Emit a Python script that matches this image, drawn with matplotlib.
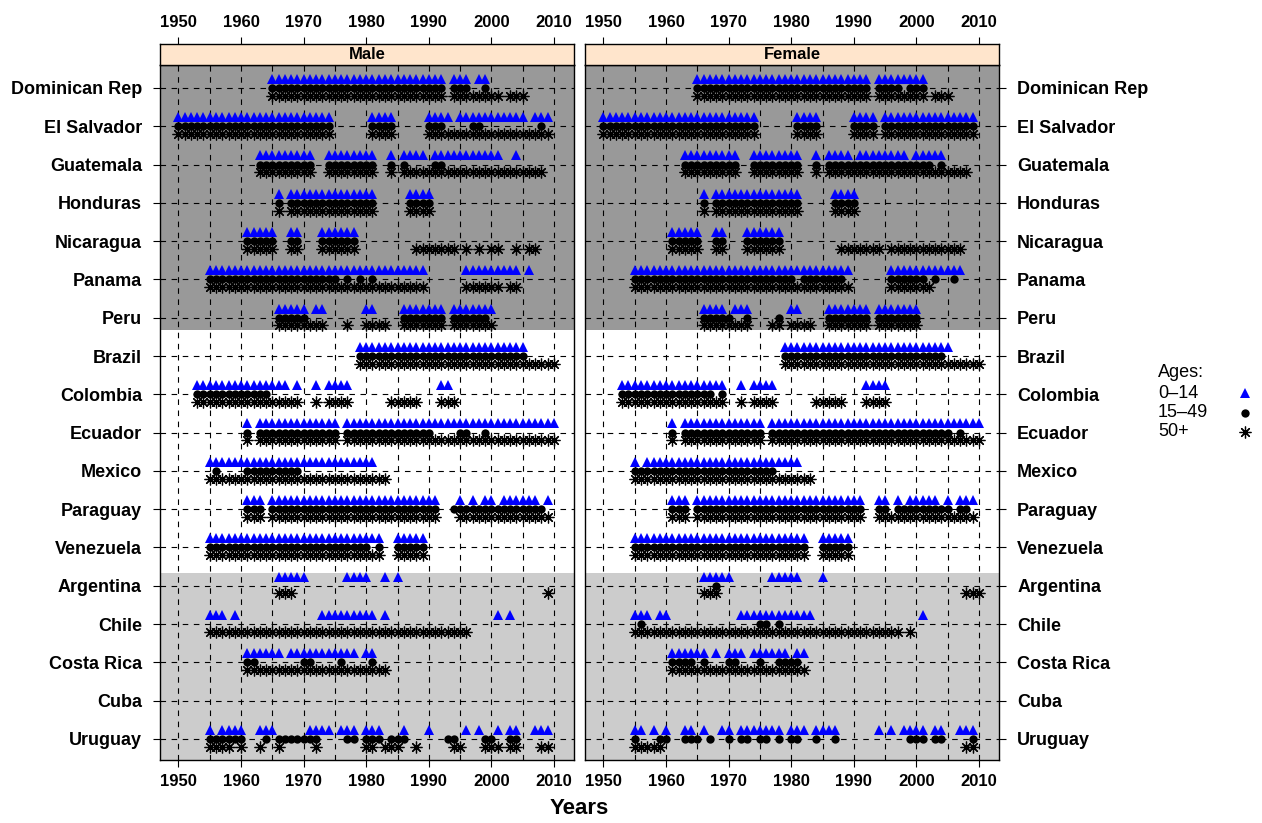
import matplotlib
matplotlib.use("Agg")
import matplotlib.pyplot as plt
from matplotlib.lines import Line2D

plt.rcParams['font.family'] = ['Liberation Sans', 'DejaVu Sans']

countries = ["Dominican Rep", "El Salvador", "Guatemala", "Honduras", "Nicaragua",
             "Panama", "Peru", "Brazil", "Colombia", "Ecuador", "Mexico", "Paraguay",
             "Venezuela", "Argentina", "Chile", "Costa Rica", "Cuba", "Uruguay"]

# Years with data, written as ranges, one entry per country (same order as above)
male_0_14 = [
    "1965-1992,1994-1996,1998-1999",
    "1950-1974,1981-1984,1990-1993,1995-2005,2007-2009",
    "1963-1971,1974-1981,1984,1986-1989,1991-2001,2004",
    "1966,1968-1981,1987-1990",
    "1961-1965,1968-1969,1973-1978",
    "1955-1989,1996-2004,2006",
    "1966-1970,1972-1973,1980-1981,1986-1992,1994-2000",
    "1979-2005",
    "1953-1967,1969,1972,1974-1977,1992-1993",
    "1961,1963-1975,1977-2010",
    "1955-1981",
    "1961-1963,1965-1991,1995,1997,1999-2000,2002-2007,2009",
    "1955-1982,1985-1989",
    "1966-1970,1977-1980,1983,1985",
    "1955-1957,1959,1973-1981,1983,2001,2003",
    "1961-1966,1968-1978,1980-1981",
    "",
    "1955,1957-1960,1963-1965,1971-1974,1976-1978,1980-1982,1986,1990,1996,1998,2001,2003-2004,2007-2009",
]
male_15_49 = [
    "1965-1992,1994-1996,1999",
    "1950-1974,1981-1984,1990-1992,1997-1998,2008",
    "1963-1971,1974-1981,1984,1986,1991-1992",
    "1966,1968-1981,1987-1990",
    "1961-1965,1968-1969,1973-1978",
    "1955-1975,1977,1979,1981",
    "1966-1970,1986-1992,1994-1999",
    "1979-2005",
    "1953-1964",
    "1961,1963-1975,1977-1990,1995-1996,1999",
    "1956,1961-1969",
    "1961-1963,1965-1991,1994-2008",
    "1955-1980,1982,1985-1989",
    "",
    "",
    "1961-1962,1970-1971,1976,1981",
    "",
    "1955-1960,1964,1966-1972,1977-1978,1980-1982,1984-1986,1993-1994,1999-2000,2003-2004",
]
male_50_plus = [
    "1965-1992,1994-2001,2003-2005",
    "1950-1974,1981-1984,1990-2009",
    "1963-1971,1974-1981,1984,1986-2008",
    "1966,1968-1981,1987-1990",
    "1961-1965,1968-1969,1973-1978,1988-1994,1996,1998,2000-2001,2004,2006-2007",
    "1955-1989,1996-2001,2003-2004",
    "1966-1973,1977,1980-1983,1986-1992,1994-2000",
    "1979-2010",
    "1953-1969,1972,1974-1977,1984-1988,1992-1994",
    "1961,1963-1975,1977-2010",
    "1955-1983",
    "1961-1963,1965-1991,1995-2009",
    "1955-1982,1985-1989",
    "1966-1968,2009",
    "1955-1996",
    "1961-1983",
    "",
    "1955-1958,1960,1963,1966,1972,1980-1981,1983-1985,1988,1994-1995,1999-2001,2003-2004,2008-2009",
]
female_0_14 = [
    "1965-1992,1994-2001",
    "1950-1974,1981-1984,1990-1993,1995-2009",
    "1963-1971,1974-1981,1984,1986-1989,1991-1998,2000-2004",
    "1966,1968-1981,1987-1990",
    "1961-1965,1968-1969,1973-1978",
    "1955-1989,1996-2007",
    "1966-1969,1971-1973,1980-1981,1986-1992,1994-2000",
    "1979-2005",
    "1953-1969,1972,1974-1977,1992-1995",
    "1961,1963-1975,1977-2010",
    "1955,1957-1981",
    "1961-1963,1965-1991,1994-1995,1997,1999-2003,2005,2007-2009",
    "1955-1982,1985-1989",
    "1966-1970,1977-1981,1985",
    "1955-1957,1959-1960,1972-1983,2001",
    "1961-1966,1968,1970-1972,1974-1979,1981-1982",
    "",
    "1955-1956,1958,1960,1963-1964,1966,1969-1970,1972-1978,1980-1982,1984-1987,1994,1996,1998-2001,2003-2004,2007-2009",
]
female_15_49 = [
    "1965-1992,1994-1997,1999-2001",
    "1950-1974,1981-1984,1990-1993,1995-2009",
    "1963-1971,1974-1981,1984,1986-2002,2004",
    "1966,1968-1981,1987-1990",
    "1961-1965,1968-1969,1973-1978",
    "1955-1980,1982-1988,1996-2001,2003,2006",
    "1966-1970,1973,1978,1986-1992,1994-2000",
    "1979-2004",
    "1953-1967,1969",
    "1961,1963-1975,1977-2005,2007",
    "1955-1977",
    "1961-1963,1965-1991,1994-1995,1997-2005,2007-2008",
    "1955-1982,1985-1989",
    "1968",
    "1956,1975-1976,1978",
    "1961-1964,1966,1970-1971,1975,1978-1981",
    "",
    "1955,1959-1960,1963-1965,1967,1970,1972-1973,1975-1976,1978,1980-1981,1984,1987,1999-2001,2003-2004,2009",
]
female_50_plus = [
    "1965-1992,1994-2001,2003-2005",
    "1950-1974,1981-1984,1990-1993,1995-2009",
    "1963-1971,1974-1981,1984,1986-2008",
    "1966,1968-1981,1987-1990",
    "1961-1965,1968-1969,1973-1978,1988-1994,1996-2007",
    "1955-1989,1996-2002",
    "1966-1973,1977-1978,1980-1983,1986-1992,1994-2000",
    "1979-2010",
    "1953-1969,1972,1974-1977,1984-1988,1992-1995",
    "1961,1963-1975,1977-2010",
    "1955-1983",
    "1961-1963,1965-1991,1994-2009",
    "1955-1982,1985-1989",
    "1966-1968,2008-2010",
    "1955-1997,1999",
    "1961-1982",
    "",
    "1955-1959,2008-2009",
]

panel_names = ["Male", "Female"]
age_labels = ["0\u201314", "15\u201349", "50+"]
x_ticks = [1950, 1960, 1970, 1980, 1990, 2000, 2010]


def expand(spec):
    """Turn '1950-1953,1960' into a list of individual years."""
    years = []
    for part in spec.split(","):
        part = part.strip()
        if not part:
            continue
        if "-" in part:
            a, b = part.split("-")
            years.extend(range(int(a), int(b) + 1))
        else:
            years.append(int(part))
    return years


# marker style per age group: (marker, colour, size, vertical offset within the row)
age_styles = [
    dict(marker="^", color="#0000FF", ms=7.0, mew=0, dy=0.24),
    dict(marker="o", color="black", ms=6.0, mew=0, dy=0.0),
    dict(marker=(8, 2, 0), color="black", ms=8.5, mew=0.9, dy=-0.20),
]

W, H = 1262, 823
fig = plt.figure(figsize=(W / 100, H / 100), dpi=100)

n = len(countries)
ypos = [n - i for i in range(n)]
xlim = (1947.05, 2013.2)
ylim = (0.45, 18.6)

panels = [
    (160, [male_0_14, male_15_49, male_50_plus]),
    (585, [female_0_14, female_15_49, female_50_plus]),
]
panel_w = 414
top_px, bot_px, strip_top = 65, 760, 44

grid_kw = dict(color="black", lw=0.8, linestyle=(0, (5, 5)), zorder=1)

for k, (left_px, series) in enumerate(panels):
    ax = fig.add_axes([left_px / W, 1 - bot_px / H, panel_w / W, (bot_px - top_px) / H])
    ax.set_xlim(*xlim)
    ax.set_ylim(*ylim)
    ax.set_facecolor("white")
    # background bands for the three country groups
    ax.axhspan(11.68, ylim[1], color="#999999", zorder=0, lw=0)
    ax.axhspan(ylim[0], 5.33, color="#CCCCCC", zorder=0, lw=0)
    for yr in range(1950, 2011, 5):
        ax.axvline(yr, **grid_kw)
    for y in ypos:
        ax.axhline(y, **grid_kw)

    for style, lst in zip(age_styles, series):
        for y, spec in zip(ypos, lst):
            yrs = expand(spec)
            if not yrs:
                continue
            ax.plot(yrs, [y + style["dy"]] * len(yrs), linestyle="none",
                    marker=style["marker"], color=style["color"],
                    markersize=style["ms"], markeredgewidth=style["mew"],
                    markeredgecolor=style["color"], zorder=3, clip_on=False)

    ax.set_xticks(x_ticks)
    ax.set_yticks(ypos)
    ax.set_yticklabels(countries)
    ax.tick_params(axis="x", direction="out", length=5, width=0.8, pad=5,
                   labelsize=12, top=False, labeltop=False)
    for lbl in ax.get_xticklabels():
        lbl.set_fontweight("bold")
    if k == 0:
        ax.tick_params(axis="y", direction="out", length=5, width=0.8, pad=8,
                       labelsize=13, left=True, labelleft=True,
                       right=False, labelright=False)
    else:
        ax.tick_params(axis="y", direction="out", length=5, width=0.8, pad=8,
                       labelsize=13, left=False, labelleft=False,
                       right=True, labelright=True)
    for lbl in ax.get_yticklabels():
        lbl.set_fontweight("bold")
    for sp in ax.spines.values():
        sp.set_linewidth(1.0)

    # strip with the panel title, carrying the top axis
    sax = fig.add_axes([left_px / W, 1 - top_px / H, panel_w / W, (top_px - strip_top) / H])
    sax.set_xlim(*xlim)
    sax.set_ylim(0, 1)
    sax.set_facecolor("#FFE5CC")
    sax.set_yticks([])
    sax.set_xticks(x_ticks)
    sax.tick_params(axis="x", direction="out", length=5, width=0.8, pad=5,
                    labelsize=12, top=True, labeltop=True, bottom=False,
                    labelbottom=False)
    for lbl in sax.get_xticklabels():
        lbl.set_fontweight("bold")
    for sp in sax.spines.values():
        sp.set_linewidth(1.0)
    sax.text(0.5, 0.5, panel_names[k], transform=sax.transAxes, ha="center",
             va="center", fontsize=12, fontweight="bold")

fig.text(579 / W, 1 - 808 / H, "Years", ha="center", va="center",
         fontsize=16, fontweight="bold")

# legend for the age groups
fig.text(1158 / W, 1 - 373 / H, "Ages:", ha="left", va="center", fontsize=13)
for i, (lab, style) in enumerate(zip(age_labels, age_styles)):
    yy = 1 - (393 + 19.5 * i) / H
    fig.text(1158 / W, yy, lab, ha="left", va="center", fontsize=13)
    fig.add_artist(Line2D([1245 / W], [yy], transform=fig.transFigure,
                          linestyle="none", marker=style["marker"],
                          color=style["color"], markersize=style["ms"],
                          markeredgewidth=style["mew"],
                          markeredgecolor=style["color"]))

fig.savefig("out.png", dpi=100)
